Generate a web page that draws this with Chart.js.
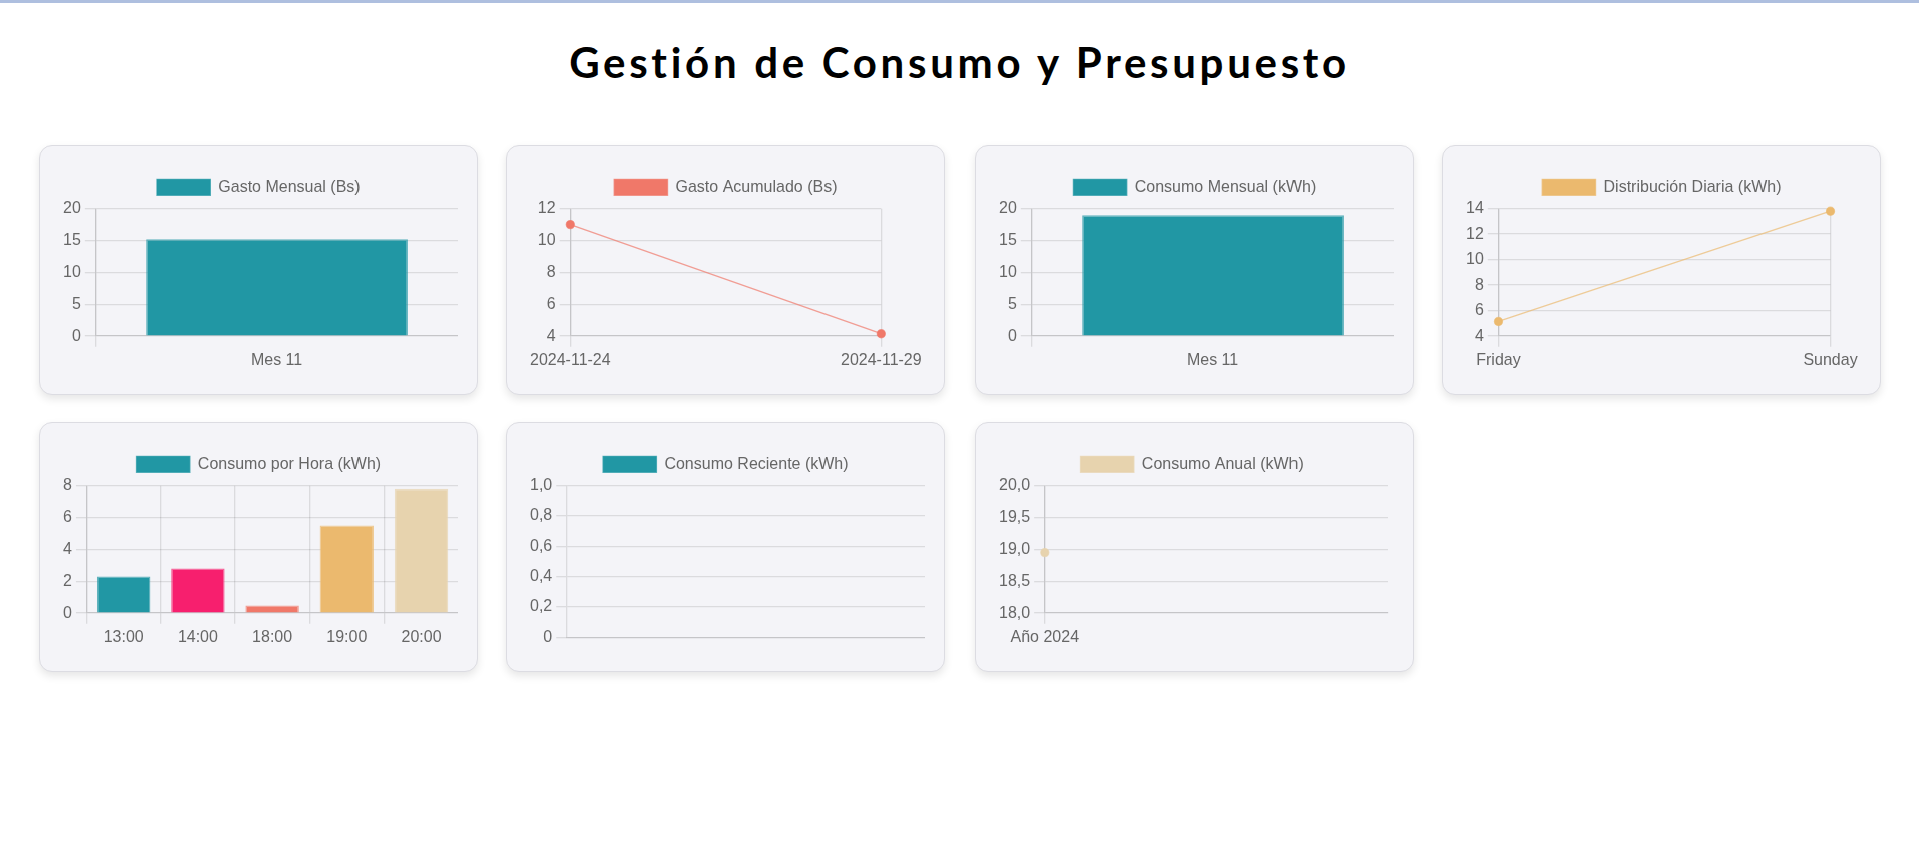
<!DOCTYPE html>
<html lang="es">
<head>
<meta charset="utf-8">
<title>Gestión de Consumo y Presupuesto</title>
<script src="https://cdn.jsdelivr.net/npm/chart.js@4.4.1/dist/chart.umd.min.js"></script>
<style>
html,body{margin:0;padding:0;background:#fff;}
body{width:1919px;height:855px;position:relative;overflow:hidden;}
.topbar{position:absolute;left:0;top:0;width:100%;height:3px;background:#aebfdf;}
h1{position:absolute;left:0;right:0;top:41px;margin:0;text-align:center;font-family:Lato,sans-serif;font-weight:700;font-size:42px;line-height:42px;letter-spacing:3.7px;color:#000;}
.card{position:absolute;width:439px;height:250px;box-sizing:border-box;background:#f4f4f8;border:1px solid #dcdce2;border-radius:13px;box-shadow:0 4px 8px rgba(0,0,0,0.1);}
.card canvas{position:absolute;left:19px;top:20px;transform:scale(1.3333333);transform-origin:0 0;image-rendering:pixelated;}
</style>
</head>
<body>
<div class="topbar"></div>
<h1>Gestión de Consumo y Presupuesto</h1>
<div class="card" style="left:39px;top:145px"><canvas id="c1" width="299" height="156"></canvas></div>
<div class="card" style="left:506px;top:145px"><canvas id="c2" width="299" height="156"></canvas></div>
<div class="card" style="left:975px;top:145px"><canvas id="c3" width="299" height="156"></canvas></div>
<div class="card" style="left:1442px;top:145px"><canvas id="c4" width="299" height="156"></canvas></div>
<div class="card" style="left:39px;top:422px"><canvas id="c5" width="299" height="156"></canvas></div>
<div class="card" style="left:506px;top:422px"><canvas id="c6" width="299" height="156"></canvas></div>
<div class="card" style="left:975px;top:422px"><canvas id="c7" width="299" height="156"></canvas></div>
<script>
// ---- data ----
const gastoMensualLabels = ['Mes 11'];
const gastoMensualValues = [15.2];
const gastoAcumuladoLabels = ['2024-11-24', '2024-11-29'];
const gastoAcumuladoValues = [11, 4.15];
const consumoMensualLabels = ['Mes 11'];
const consumoMensualValues = [18.95];
const distribucionLabels = ['Friday', 'Sunday'];
const distribucionValues = [5.15, 13.8];
const horaLabels = ['13:00', '14:00', '18:00', '19:00', '20:00'];
const horaValues = [2.3, 2.8, 0.48, 5.5, 7.8];
const recienteLabels = [];
const recienteValues = [];
const anualLabels = ['Año 2024'];
const anualValues = [18.95];

// ---- colours ----
const TEAL = [33, 151, 164];
const PINK = [247, 31, 110];
const SALMON = [240, 120, 105];
const GOLD = [235, 185, 110];
const BEIGE = [231, 211, 174];
const fill = c => `rgb(${c[0]},${c[1]},${c[2]})`;
const edge = c => `rgba(${c[0]},${c[1]},${c[2]},0.7)`;

Chart.defaults.font.family = "Arial, 'Liberation Sans', Helvetica, sans-serif";
Chart.defaults.font.size = 12;
Chart.defaults.color = '#666';

function makeChart(id, type, label, labels, values, bg, border, padRight) {
  return new Chart(document.getElementById(id), {
    type: type,
    data: {
      labels: labels,
      datasets: [{ label: label, data: values, backgroundColor: bg, borderColor: border, borderWidth: 1 }]
    },
    options: {
      responsive: false,
      animation: false,
      devicePixelRatio: 4 / 3,
      locale: 'es-ES',
      layout: { padding: { right: padRight || 0 } },
      plugins: { legend: { display: true, position: 'top' }, tooltip: { enabled: false } }
    }
  });
}

makeChart('c1', 'bar', 'Gasto Mensual (Bs)', gastoMensualLabels, gastoMensualValues, fill(TEAL), edge(TEAL));
makeChart('c2', 'line', 'Gasto Acumulado (Bs)', gastoAcumuladoLabels, gastoAcumuladoValues, fill(SALMON), edge(SALMON));
makeChart('c3', 'bar', 'Consumo Mensual (kWh)', consumoMensualLabels, consumoMensualValues, fill(TEAL), edge(TEAL));
makeChart('c4', 'line', 'Distribución Diaria (kWh)', distribucionLabels, distribucionValues, fill(GOLD), edge(GOLD));
const horaColors = [TEAL, PINK, SALMON, GOLD, BEIGE];
makeChart('c5', 'bar', 'Consumo por Hora (kWh)', horaLabels, horaValues, horaColors.map(fill), horaColors.map(edge));
makeChart('c6', 'bar', 'Consumo Reciente (kWh)', recienteLabels, recienteValues, fill(TEAL), edge(TEAL));
makeChart('c7', 'line', 'Consumo Anual (kWh)', anualLabels, anualValues, fill(BEIGE), edge(BEIGE), 4);
</script>
</body>
</html>
